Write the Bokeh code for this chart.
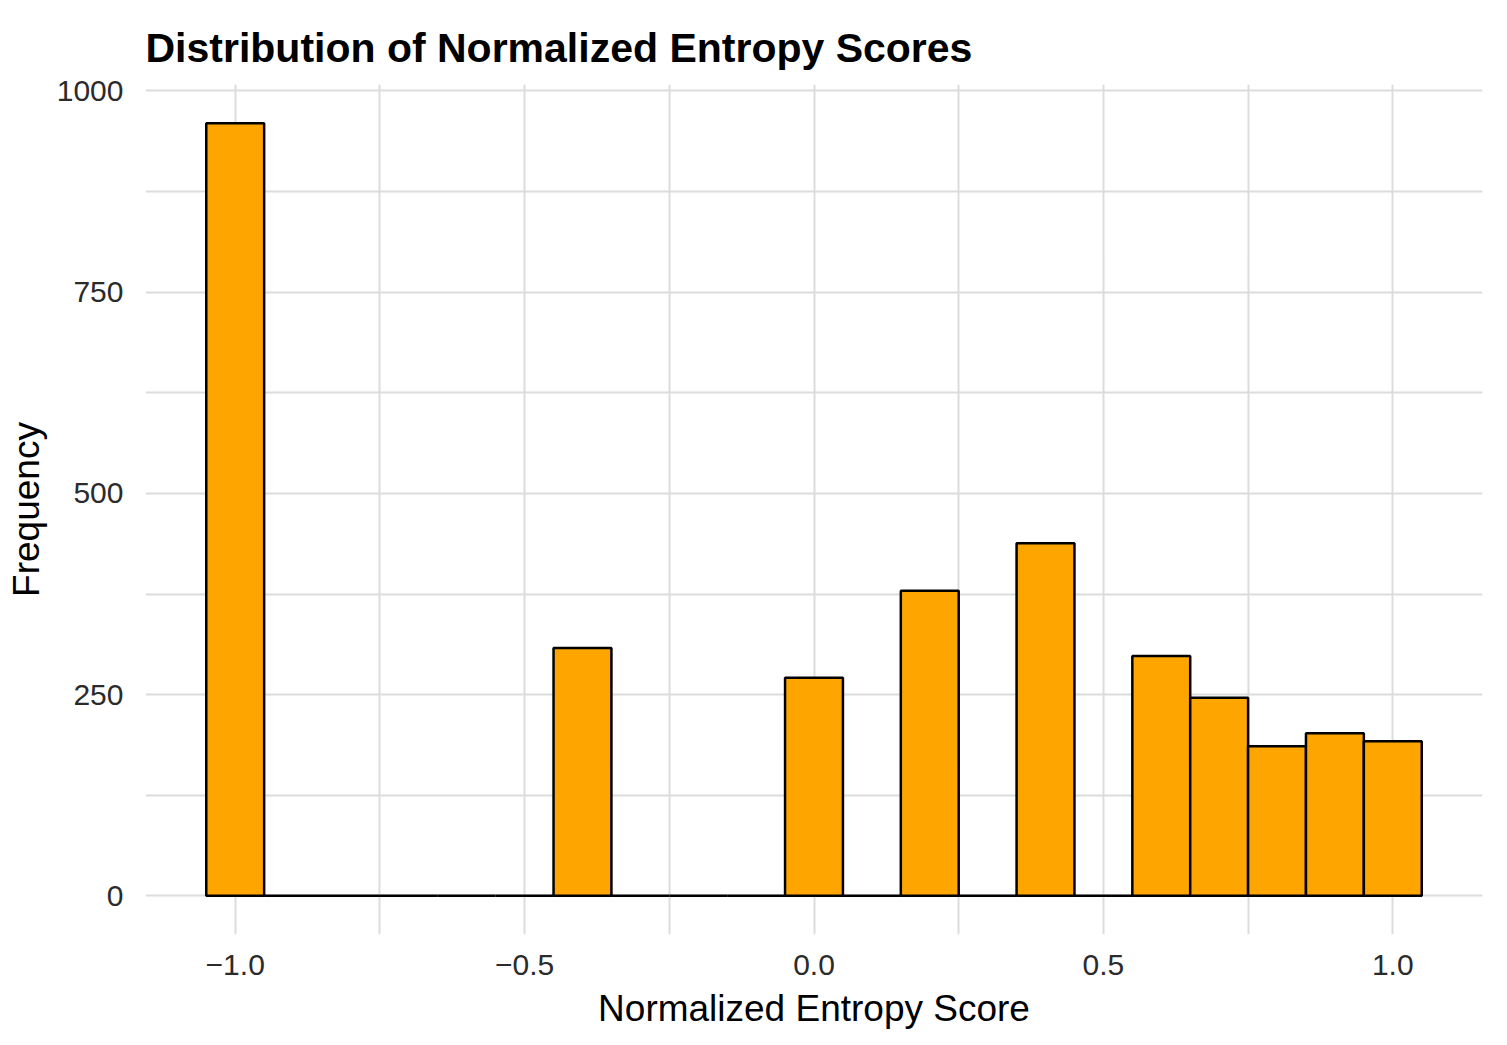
from bokeh.plotting import figure
from bokeh.models import Range1d, FixedTicker
from bokeh.embed import file_html
from bokeh.resources import INLINE

# ---- data ----
bin_centers = [-1.0, -0.9, -0.8, -0.7, -0.6, -0.5, -0.4, -0.3, -0.2, -0.1, 0.0,
               0.1, 0.2, 0.3, 0.4, 0.5, 0.6, 0.7, 0.8, 0.9, 1.0]
counts = [960, 0, 0, 0, 0, 0, 308, 0, 0, 0, 271,
          0, 379, 0, 438, 0, 298, 246, 186, 202, 192]
bin_width = 0.1

x_tick_values = [-1.0, -0.5, 0.0, 0.5, 1.0]
x_tick_labels = ["\u22121.0", "\u22120.5", "0.0", "0.5", "1.0"]
x_minor_values = [-0.75, -0.25, 0.25, 0.75]
y_tick_values = [0, 250, 500, 750, 1000]
y_tick_labels = ["0", "250", "500", "750", "1000"]
y_minor_values = [125, 375, 625, 875]

FONT = "Liberation Sans"
GRID = "#dcdcdc"

p = figure(width=1500, height=1040, output_backend="svg", toolbar_location=None,
           x_range=Range1d(-1.155, 1.155), y_range=Range1d(-48, 1008),
           min_border_left=145, min_border_right=18, min_border_top=84,
           min_border_bottom=106,
           title="Distribution of Normalized Entropy Scores",
           x_axis_label="Normalized Entropy Score", y_axis_label="Frequency")
p.outline_line_color = None
p.background_fill_color = "white"
p.border_fill_color = "white"

p.title.text_font = FONT
p.title.text_font_size = "41px"
p.title.text_font_style = "bold"
p.title.text_color = "black"
p.title.align = "left"
p.title.standoff = 28

p.vbar(x=bin_centers, top=counts, width=bin_width, bottom=0,
       fill_color="#FFA500", line_color="black", line_width=2.5)

p.xaxis.ticker = FixedTicker(ticks=x_tick_values, minor_ticks=x_minor_values)
p.yaxis.ticker = FixedTicker(ticks=y_tick_values, minor_ticks=y_minor_values)
p.xaxis.major_label_overrides = dict(zip(x_tick_values, x_tick_labels))
p.yaxis.major_label_overrides = dict(zip(y_tick_values, y_tick_labels))

for ax in (p.xaxis, p.yaxis):
    ax.axis_line_color = None
    ax.major_tick_line_color = None
    ax.minor_tick_line_color = None
    ax.major_tick_out = 0
    ax.minor_tick_out = 0
    ax.major_label_text_font = FONT
    ax.major_label_text_font_size = "30px"
    ax.major_label_text_color = "#2b2b2b"
    ax.axis_label_text_font = FONT
    ax.axis_label_text_font_size = "37px"
    ax.axis_label_text_font_style = "normal"
    ax.axis_label_text_color = "black"

p.xaxis.major_label_standoff = 20
p.yaxis.major_label_standoff = 22
p.xaxis.axis_label_standoff = 10
p.yaxis.axis_label_standoff = 7

for g in (p.xgrid, p.ygrid):
    g.grid_line_color = GRID
    g.grid_line_width = 2
    g.minor_grid_line_color = GRID
    g.minor_grid_line_width = 2

open("out.html", "w").write(file_html(p, INLINE))
